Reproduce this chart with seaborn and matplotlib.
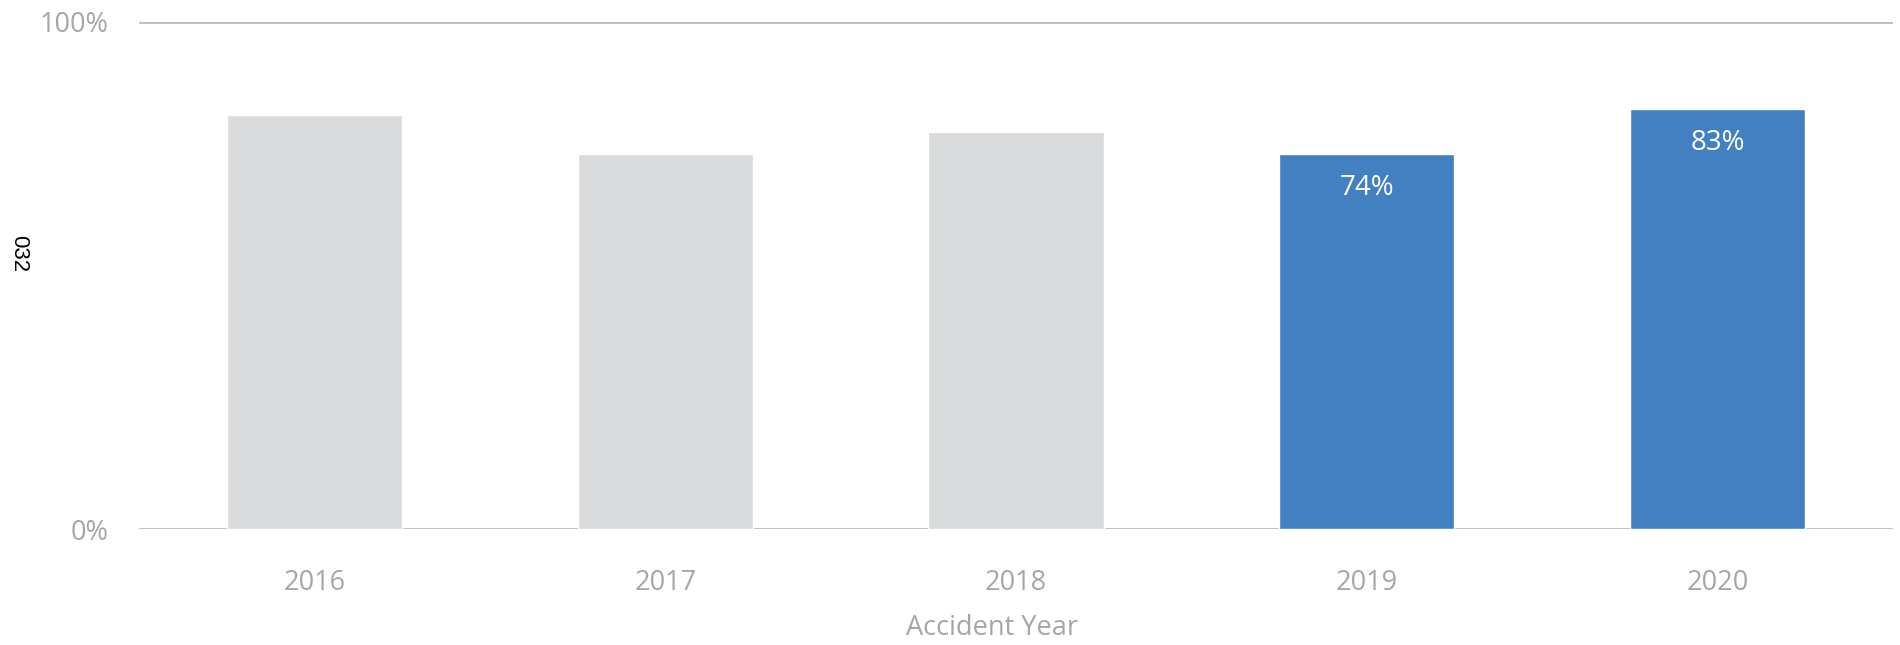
import matplotlib
matplotlib.use("Agg")
import matplotlib.pyplot as plt
import seaborn as sns
import pandas as pd

# Share of claims closed, by accident year
years = ["2016", "2017", "2018", "2019", "2020"]
shares = [0.817, 0.740, 0.783, 0.739, 0.828]
highlighted = ["2019", "2020"]

GREY_BAR = "#D9DADC"
BLUE_BAR = "#4380C2"
TEXT_GREY = "#A6A6A6"
RULE_GREY = "#BCBCBC"

sns.set_theme(style="white")
plt.rcParams["font.family"] = ["Open Sans", "DejaVu Sans"]

df = pd.DataFrame({"year": years, "share": shares})
palette = {y: (BLUE_BAR if y in highlighted else GREY_BAR) for y in years}

fig = plt.figure(figsize=(19, 6.45), dpi=100)
ax = fig.add_axes([0.0732, 0.1798, 0.9231, 0.7861])

sns.barplot(data=df, x="year", y="share", hue="year", palette=palette,
            width=0.5, legend=False, ax=ax, saturation=1)

ax.set_ylim(0, 1)
ax.set_xlim(-0.5, len(years) - 0.5)
ax.set_yticks([0, 1])
ax.set_yticklabels(["0%", "100%"])

# horizontal rules at 0% and 100%
for v in (0, 1):
    ax.axhline(v, color=RULE_GREY, lw=2.0, zorder=0.5)

for s in ax.spines.values():
    s.set_visible(False)

ax.tick_params(axis="both", length=0, labelsize=19.5, colors=TEXT_GREY)
ax.tick_params(axis="x", pad=29)
ax.tick_params(axis="y", pad=22)

ax.set_xlabel("Accident Year", fontsize=19.5, color=TEXT_GREY)
ax.xaxis.set_label_coords(0.4862, -0.168)
ax.set_ylabel("")

# value labels inside the highlighted bars
for i, (y, v) in enumerate(zip(years, shares)):
    if y in highlighted:
        ax.annotate(f"{v:.0%}", xy=(i, v), xytext=(0, -24.5),
                    textcoords="offset points", ha="center", va="center",
                    fontsize=20, color="white")

fig.text(19 / 1900, 1 - 254 / 645, "032", rotation=270, ha="center",
         va="center", fontsize=16, color="black",
         family=["Liberation Sans", "DejaVu Sans"])

fig.savefig("out.png", dpi=100, facecolor="white")
